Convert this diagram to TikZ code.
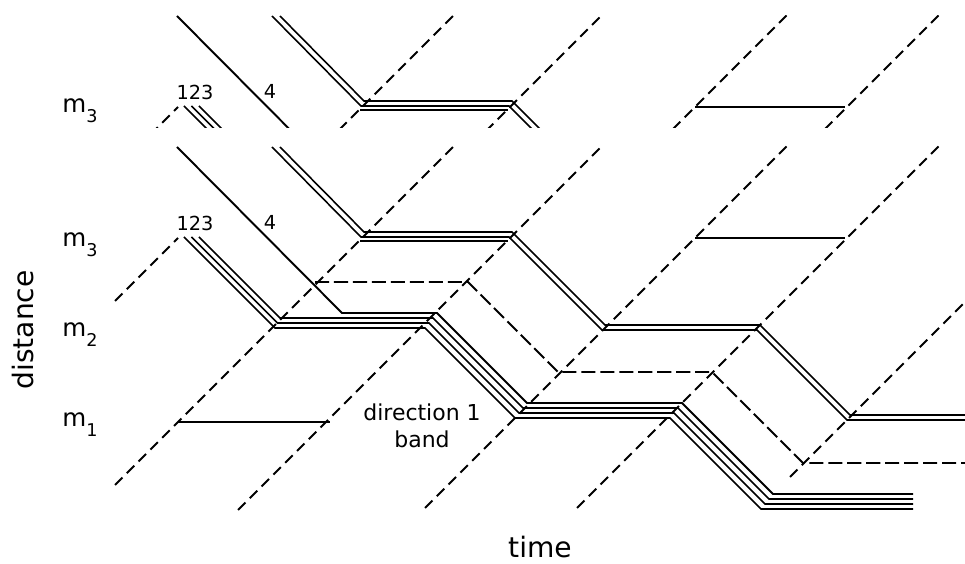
\documentclass[tikz,border=0pt]{standalone}
\usepackage{fontspec}
\setmainfont{DejaVu Sans}
\newcommand{\mlab}[1]{m\raisebox{-0.4em}{\fontsize{10}{10}\selectfont #1}}
\tikzset{
  veh/.style={line width=0.9pt},
  redline/.style={line width=1.1pt},
  oncoming/.style={line width=1.1pt, dash pattern=on 6pt off 3.5pt},
  tailveh/.style={line width=1.1pt, dash pattern=on 8pt off 2.8pt},
  lbl/.style={inner sep=0pt, font=\fontsize{11}{13}\selectfont},
  axlbl/.style={inner sep=0pt, font=\fontsize{16}{18}\selectfont},
  siglbl/.style={inner sep=0pt, anchor=base west, font=\fontsize{14}{16}\selectfont}
}
\newcommand{\wavelines}{%
  \draw[oncoming] (115,301) -- (178,238); \draw[oncoming] (115,485) -- (453,147);
  \draw[oncoming] (238,510) -- (600,148); \draw[oncoming] (425,508) -- (788,145);
  \draw[oncoming] (577,508) -- (940,145); \draw[oncoming] (790,477) -- (965,302);
  \draw[redline] (178,422) -- (330,422); \draw[redline] (695,238) -- (845,238);
  % vehicles 1 2 3 4
  \draw[redline] (177,147) -- (342,313) -- (437,313) -- (527,403) -- (682,403)
    -- (773,494) -- (913,494);
  \draw[veh] (199,237) -- (280,318) -- (433,318) -- (523,408) -- (678,408)
    -- (769,499) -- (913,499);
  \draw[veh] (191.5,237) -- (277.5,323) -- (429,323) -- (519,413) -- (674,413)
    -- (765,504) -- (913,504);
  \draw[veh] (184,237) -- (275,328) -- (425,328) -- (515,418) -- (670,418)
    -- (761,509) -- (913,509);
  % leading pair
  \draw[veh] (280,147) -- (364,232) -- (512,232) -- (605,325) -- (760,325)
    -- (850,415) -- (965,415);
  \draw[veh] (272,147) -- (361,237) -- (509,237) -- (602,330) -- (757,330)
    -- (847,420) -- (965,420);
  \draw[redline] (360,241) -- (508,241);
  \draw[tailveh] (315,282) -- (468,282) -- (558,372) -- (712,372) -- (803,463)
    -- (965,463);
  \node[lbl, anchor=base] (veh123) at (195,231) {123};
  \node[lbl, anchor=base] (veh4) at (270,230) {4};
}
\begin{document}
\begin{tikzpicture}[x=0.02cm, y=-0.02cm]
  \useasboundingbox (0,0) rectangle (965,564);
  \wavelines
  \begin{scope}[shift={(0,-131)}]
    \clip (0,147) rectangle (965,259);
    \wavelines
  \end{scope}
  \node[siglbl] (m3top) at (62,113) {\mlab{3}};
  \node[siglbl] (m3) at (62,247) {\mlab{3}};
  \node[siglbl] (m2) at (62,337) {\mlab{2}};
  \node[siglbl] (m1) at (62,427) {\mlab{1}};
  \node[axlbl, rotate=90, anchor=base] (dist) at (33,330) {distance};
  \node[axlbl, anchor=base] (time) at (540,558) {time};
  \node[align=center, inner sep=0pt, font=\fontsize{12.5}{15.5}\selectfont] (band)
    at (422,426) {direction 1\\band};
\end{tikzpicture}
\end{document}
